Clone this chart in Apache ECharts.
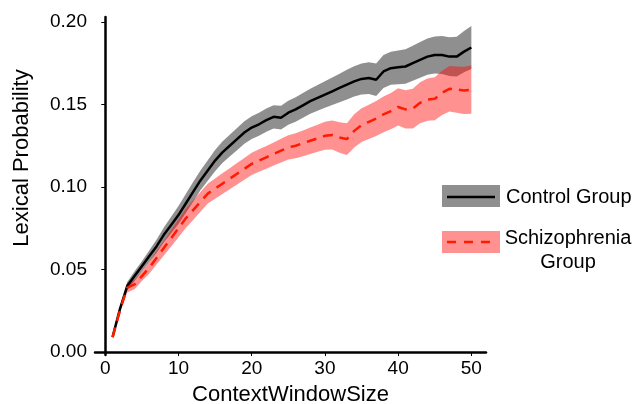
<!DOCTYPE html>
<html>
<head>
<meta charset="utf-8">
<script src="https://cdn.jsdelivr.net/npm/echarts@6/dist/echarts.min.js"></script>
<style>
  html, body { margin: 0; padding: 0; background: #fff; }
  #chart { width: 632px; height: 404px; }
</style>
</head>
<body>
<div id="chart"></div>
<script>
// context window sizes
var windowSize = [1, 2, 3, 4, 5, 6, 7, 8, 9, 10,
  11, 12, 13, 14, 15, 16, 17, 18, 19, 20,
  21, 22, 23, 24, 25, 26, 27, 28, 29, 30,
  31, 32, 33, 34, 35, 36, 37, 38, 39, 40,
  41, 42, 43, 44, 45, 46, 47, 48, 49, 50];

// control group: mean and half width of the band
var controlMean = [0.009, 0.026, 0.040, 0.046, 0.052, 0.058, 0.064, 0.071, 0.077, 0.083,
  0.090, 0.097, 0.104, 0.110, 0.116, 0.121, 0.125, 0.129, 0.133, 0.136,
  0.138, 0.1405, 0.1425, 0.142, 0.145, 0.147, 0.1495, 0.152, 0.154, 0.156,
  0.158, 0.160, 0.162, 0.164, 0.1655, 0.166, 0.165, 0.170, 0.172, 0.1725,
  0.173, 0.175, 0.177, 0.179, 0.180, 0.180, 0.179, 0.179, 0.182, 0.1845];
var controlHalf = [0.0005, 0.0015, 0.0025, 0.003, 0.003, 0.0035, 0.004, 0.0045, 0.005, 0.0055,
  0.0058, 0.006, 0.006, 0.0062, 0.0064, 0.0065, 0.0066, 0.0067, 0.0068, 0.0069,
  0.007, 0.007, 0.0071, 0.0072, 0.0073, 0.0074, 0.0075, 0.0076, 0.0078, 0.008,
  0.0083, 0.0086, 0.009, 0.0092, 0.0094, 0.0096, 0.0098, 0.010, 0.010, 0.0102,
  0.0104, 0.0106, 0.0108, 0.011, 0.0112, 0.0115, 0.0118, 0.012, 0.0125, 0.013];

// schizophrenia group
var schizoMean = [0.009, 0.025, 0.039, 0.041, 0.046, 0.051, 0.057, 0.063, 0.069, 0.075,
  0.081, 0.086, 0.091, 0.096, 0.099, 0.102, 0.105, 0.108, 0.111, 0.114,
  0.116, 0.118, 0.120, 0.122, 0.124, 0.125, 0.1265, 0.128, 0.1295, 0.131,
  0.1315, 0.130, 0.129, 0.134, 0.1375, 0.1395, 0.1415, 0.144, 0.146, 0.1485,
  0.147, 0.1475, 0.151, 0.153, 0.1535, 0.157, 0.1595, 0.159, 0.1585, 0.159];
var schizoHalf = [0.0005, 0.0015, 0.003, 0.003, 0.003, 0.0035, 0.004, 0.0045, 0.005, 0.0055,
  0.0058, 0.006, 0.006, 0.006, 0.0062, 0.0063, 0.0064, 0.0065, 0.0066, 0.0067,
  0.0068, 0.0069, 0.007, 0.0072, 0.0074, 0.0076, 0.0078, 0.008, 0.0082, 0.0085,
  0.0088, 0.0092, 0.0096, 0.010, 0.0102, 0.0104, 0.0106, 0.0108, 0.011, 0.0113,
  0.0116, 0.012, 0.0124, 0.0128, 0.013, 0.0134, 0.0138, 0.014, 0.0143, 0.0146];

var xTicks = [0, 10, 20, 30, 40, 50];
var yTicks = [0, 0.05, 0.10, 0.15, 0.20];

var FONT = 'Liberation Sans, Arial, sans-serif';
var GREY_FILL = 'rgba(0,0,0,0.44)';
var RED_FILL = 'rgba(255,0,0,0.43)';
var RED = '#ff1a00';

function pairs(vals) {
  return windowSize.map(function (x, i) { return [x, vals[i]]; });
}

// one polygon per band: upper edge left->right, lower edge right->left
function bandSeries(name, mean, half, fill) {
  return {
    name: name, type: 'custom', silent: true,
    data: windowSize.map(function (x, i) { return [x, mean[i] - half[i], mean[i] + half[i]]; }),
    encode: { x: 0, y: [1, 2] },
    renderItem: function (params, api) {
      if (params.dataIndex !== 0) return null;
      var pts = [];
      for (var i = 0; i < windowSize.length; i++) {
        pts.push(api.coord([windowSize[i], mean[i] + half[i]]));
      }
      for (var j = windowSize.length - 1; j >= 0; j--) {
        pts.push(api.coord([windowSize[j], mean[j] - half[j]]));
      }
      return { type: 'polygon', shape: { points: pts }, style: { fill: fill } };
    }
  };
}

var chart = echarts.init(document.getElementById('chart'));
chart.setOption({
  animation: false,
  grid: { left: 95, top: 17, width: 391, height: 338, outerBoundsMode: 'none' },
  xAxis: {
    type: 'value', min: -1.4, max: 52,
    name: 'ContextWindowSize', nameLocation: 'middle', nameGap: 29,
    nameTextStyle: { fontFamily: FONT, fontSize: 22, color: '#000' },
    axisLine: { show: true, lineStyle: { color: '#000', width: 2.5 } },
    axisTick: { show: true, length: 4, customValues: xTicks, lineStyle: { color: '#000', width: 1 } },
    axisLabel: { customValues: xTicks, fontFamily: FONT, fontSize: 19, color: '#000', margin: 4 },
    splitLine: { show: false }
  },
  yAxis: {
    type: 'value', min: -0.0018, max: 0.203,
    axisLine: { show: true, lineStyle: { color: '#000', width: 2.5 } },
    axisTick: { show: true, length: 4, customValues: yTicks, lineStyle: { color: '#000', width: 1 } },
    axisLabel: {
      customValues: yTicks, fontFamily: FONT, fontSize: 19, color: '#000', margin: 8,
      formatter: function (v) { return v.toFixed(2); }
    },
    splitLine: { show: false }
  },
  series: [
    bandSeries('controlBand', controlMean, controlHalf, GREY_FILL),
    bandSeries('schizoBand', schizoMean, schizoHalf, RED_FILL),
    {
      name: 'Control Group', type: 'line', data: pairs(controlMean),
      symbol: 'none', lineStyle: { color: '#000', width: 2.5 }
    },
    {
      name: 'Schizophrenia Group', type: 'line', data: pairs(schizoMean),
      symbol: 'none', lineStyle: { color: RED, width: 2.5, type: [10, 7] }
    }
  ],
  graphic: [
    {
      type: 'text', x: 22, y: 158, rotation: Math.PI / 2,
      style: { text: 'Lexical Probability', font: '22px ' + FONT, fill: '#000', align: 'center', verticalAlign: 'middle' }
    },
    // legend
    { type: 'rect', shape: { x: 442, y: 185, width: 58, height: 22 }, style: { fill: GREY_FILL } },
    { type: 'line', shape: { x1: 447, y1: 197, x2: 495, y2: 197 }, style: { stroke: '#000', lineWidth: 2.5 } },
    {
      type: 'text', x: 506, y: 197,
      style: { text: 'Control Group', font: '20px ' + FONT, fill: '#000', verticalAlign: 'middle' }
    },
    { type: 'rect', shape: { x: 442, y: 231, width: 58, height: 22 }, style: { fill: RED_FILL } },
    { type: 'line', shape: { x1: 447, y1: 242, x2: 495, y2: 242 }, style: { stroke: RED, lineWidth: 2.5, lineDash: [9, 8] } },
    {
      type: 'text', x: 568, y: 250,
      style: { text: 'Schizophrenia\nGroup', font: '20px ' + FONT, fill: '#000', align: 'center', verticalAlign: 'middle', lineHeight: 24 }
    }
  ]
});
</script>
</body>
</html>
